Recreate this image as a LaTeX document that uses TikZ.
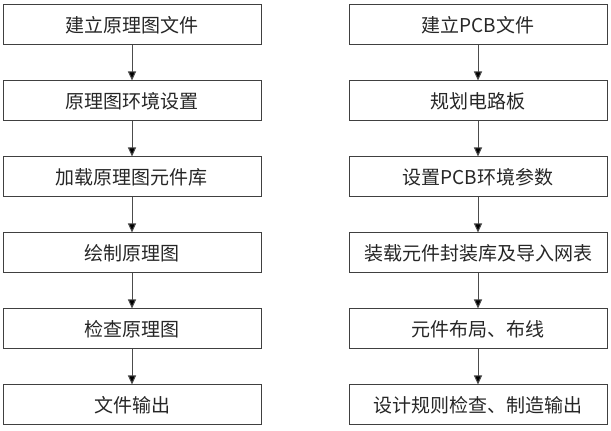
\documentclass[tikz,border=0pt]{standalone}
\usepackage{fontspec}
\setmainfont{Noto Sans CJK SC}
\usetikzlibrary{arrows.meta}
\begin{document}
\begin{tikzpicture}[x=1pt,y=1pt,
  stepbox/.style={draw=black!75,line width=1pt,minimum width=258pt,minimum height=40pt,inner sep=0pt,font=\fontsize{19}{22}\selectfont,text=black!85},
  flow/.style={draw=black!70,line width=1pt,-{Triangle[width=8pt,length=9pt,fill=black]}}]
\useasboundingbox (0,0) rectangle (611,431);
\foreach \n/\y in {1/406,2/330,3/254,4/178,5/102,6/26}{
  \coordinate (L\n) at (132,\y);
  \coordinate (R\n) at (478,\y);
}
\node[stepbox] (a1) at (L1) {建立原理图文件};
\node[stepbox] (a2) at (L2) {原理图环境设置};
\node[stepbox] (a3) at (L3) {加载原理图元件库};
\node[stepbox] (a4) at (L4) {绘制原理图};
\node[stepbox] (a5) at (L5) {检查原理图};
\node[stepbox] (a6) at (L6) {文件输出};
\node[stepbox] (b1) at (R1) {建立PCB文件};
\node[stepbox] (b2) at (R2) {规划电路板};
\node[stepbox] (b3) at (R3) {设置PCB环境参数};
\node[stepbox] (b4) at (R4) {装载元件封装库及导入网表};
\node[stepbox] (b5) at (R5) {元件布局、布线};
\node[stepbox] (b6) at (R6) {设计规则检查、制造输出};
\foreach \i/\j in {1/2,2/3,3/4,4/5,5/6}{
  \draw[flow] (a\i) -- (a\j);
  \draw[flow] (b\i) -- (b\j);
}
\end{tikzpicture}
\end{document}
